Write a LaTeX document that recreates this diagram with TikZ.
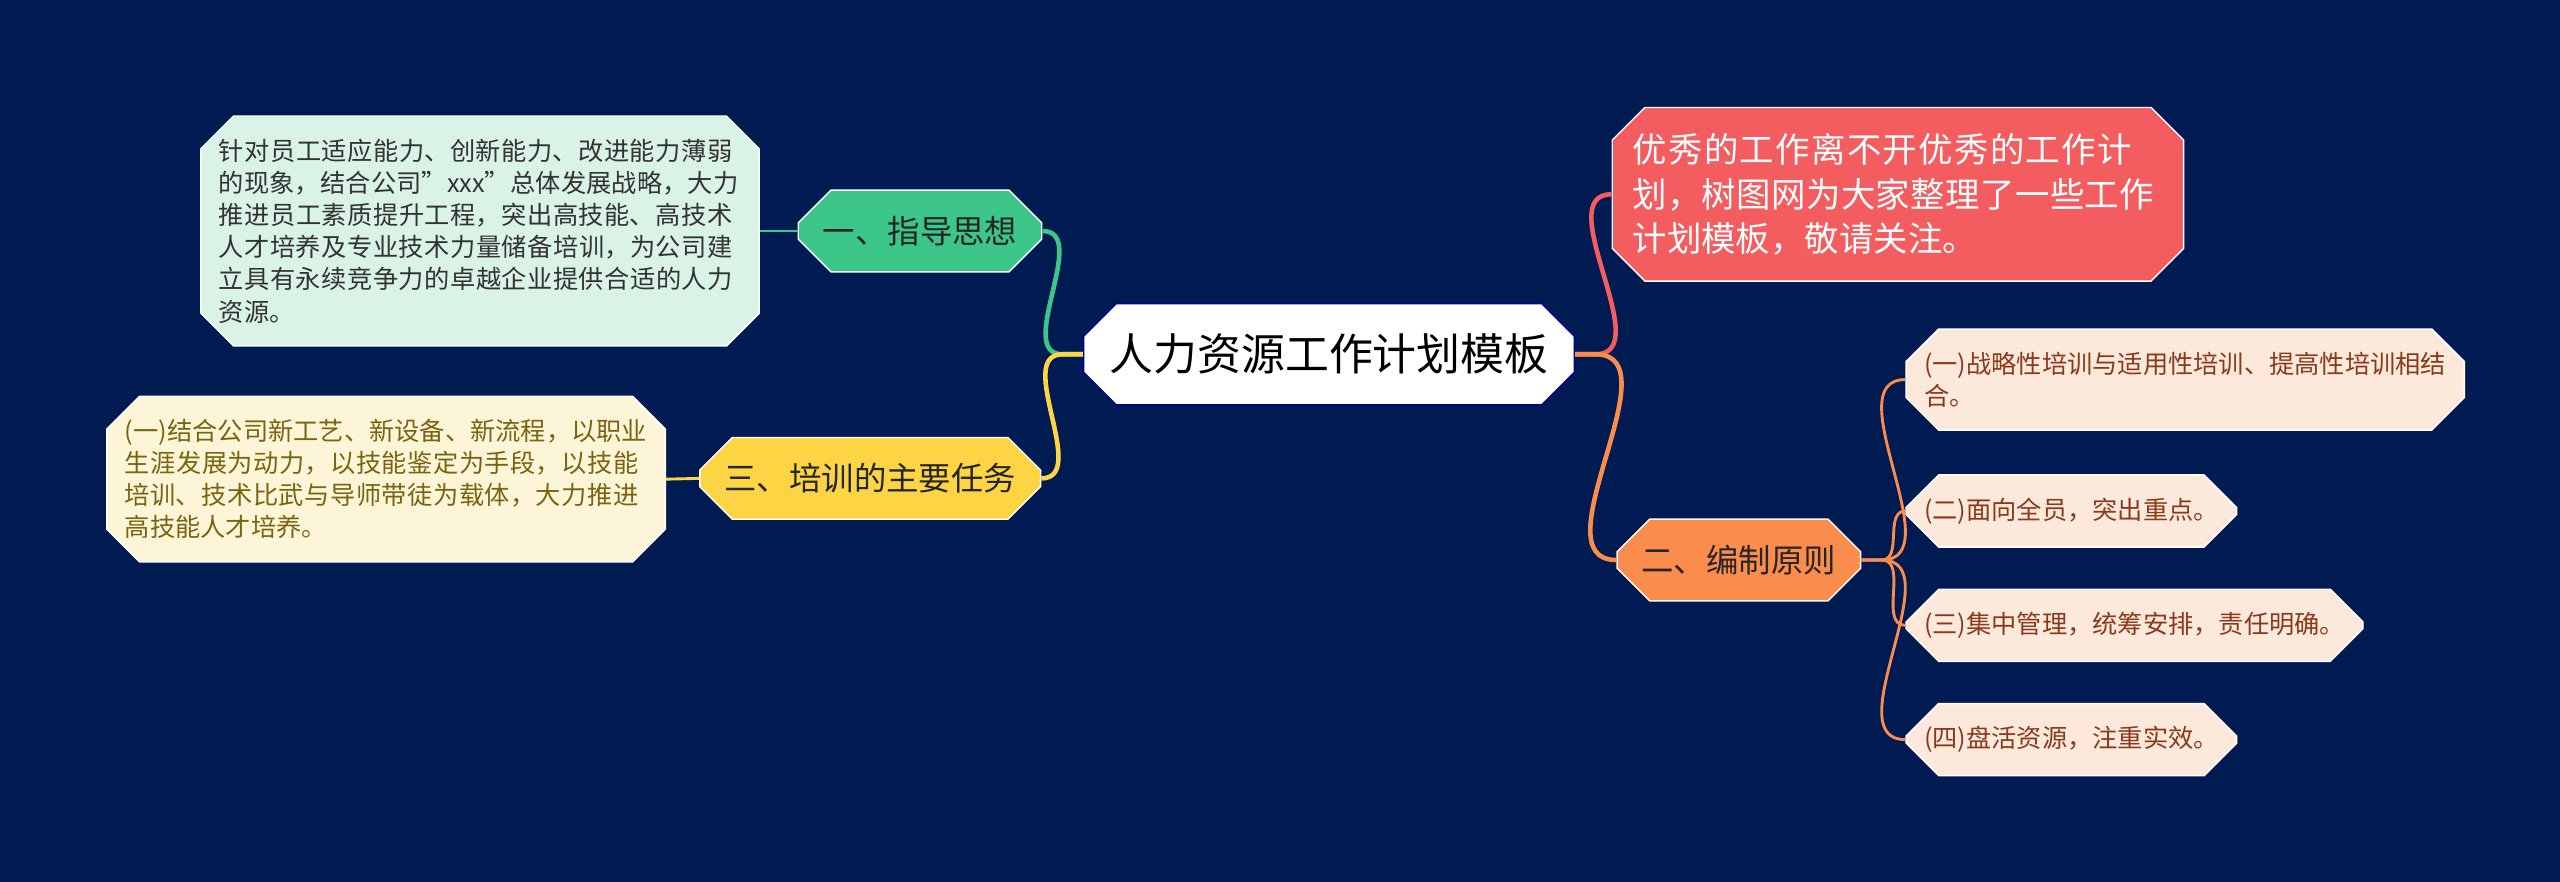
\documentclass[tikz,border=0pt]{standalone}
\usepackage{fontspec}
\setmainfont{Noto Sans CJK SC}
\XeTeXlinebreaklocale "zh"
\XeTeXlinebreakskip = 0pt plus 1pt
\usetikzlibrary{shapes.misc}
\definecolor{bg}{HTML}{001A52}
\definecolor{cred}{HTML}{F45D5F}
\definecolor{corange}{HTML}{FA8D4C}
\definecolor{cgreen}{HTML}{3CC68A}
\definecolor{cyellow}{HTML}{FDD444}
\definecolor{lorange}{HTML}{FDE9DC}
\definecolor{lgreen}{HTML}{D9F3E6}
\definecolor{lyellow}{HTML}{FDF5D8}
\definecolor{tbrown}{HTML}{8A3A1A}
\definecolor{tolive}{HTML}{7A6410}
\begin{document}
\begin{tikzpicture}[
   box/.style={chamfered rectangle,chamfered rectangle xsep=0.2cm,chamfered rectangle ysep=0.2cm,draw=white,line width=0.5pt},
   branch/.style={box,font=\fontsize{11.3}{13}\selectfont,minimum height=0.92cm,inner xsep=0.1cm},
   leaf/.style={box,font=\fontsize{8.8}{11.2}\selectfont,align=left,inner xsep=0.02cm,inner ysep=0.08cm},
   link/.style={line width=1.6pt},
   twig/.style={line width=1pt}]
\fill[bg] (0,0) rectangle (31.36,-10.8);
\node[box,fill=white,draw=blue!60!black,font=\fontsize{15.3}{18}\selectfont,minimum width=5.96cm,minimum height=1.24cm] (root) at (16.28,-4.34) {人力资源工作计划模板};
% right side
\node[box,fill=cred,text=white,font=\fontsize{12}{15.5}\selectfont,text width=6.5cm,align=left,minimum height=2.04cm,inner xsep=0.05cm] (intro) at (23.25,-2.38) {优秀的工作离不开优秀的工作计划，树图网为大家整理了一些工作计划模板，敬请关注。};
\node[branch,fill=corange,text=black!85,minimum width=2.88cm] (yuanze) at (21.3,-6.86) {二、编制原则};
\node[leaf,fill=lorange,text=tbrown,text width=6.4cm,anchor=west,minimum height=1.1cm] (y1) at (23.34,-4.65) {(一)战略性培训与适用性培训、提高性培训相结合。};
\node[leaf,fill=lorange,text=tbrown,anchor=west,minimum height=0.68cm] (y2) at (23.34,-6.26) {(二)面向全员，突出重点。};
\node[leaf,fill=lorange,text=tbrown,anchor=west,minimum height=0.68cm] (y3) at (23.34,-7.66) {(三)集中管理，统筹安排，责任明确。};
\node[leaf,fill=lorange,text=tbrown,anchor=west,minimum height=0.68cm] (y4) at (23.34,-9.06) {(四)盘活资源，注重实效。};
% left side
\node[branch,fill=cgreen,text=black!85,minimum width=2.86cm] (sixiang) at (11.27,-2.83) {一、指导思想};
\node[leaf,fill=lgreen,text=black!80,text width=6.4cm,minimum height=2.74cm] (s1) at (5.88,-2.83) {针对员工适应能力、创新能力、改进能力薄弱的现象，结合公司"xxx"总体发展战略，大力推进员工素质提升工程，突出高技能、高技术人才培养及专业技术力量储备培训，为公司建立具有永续竞争力的卓越企业提供合适的人力资源。};
\node[branch,fill=cyellow,text=black!85,minimum width=4.08cm] (renwu) at (10.66,-5.86) {三、培训的主要任务};
\node[leaf,fill=lyellow,text=tolive,text width=6.4cm,minimum height=1.94cm] (r1) at (4.73,-5.87) {(一)结合公司新工艺、新设备、新流程，以职业生涯发展为动力，以技能鉴定为手段，以技能培训、技术比武与导师带徒为载体，大力推进高技能人才培养。};
% connectors
\draw[link,cred] (root.east) -- ++(0.25,0) to[out=0,in=180] (intro.west);
\draw[link,corange] (root.east) -- ++(0.25,0) to[out=0,in=180] (yuanze.west);
\draw[link,cgreen] (root.west) -- ++(-0.25,0) to[out=180,in=0] (sixiang.east);
\draw[link,cyellow] (root.west) -- ++(-0.25,0) to[out=180,in=0] (renwu.east);
\draw[twig,cgreen] (sixiang.west) -- (s1.east);
\draw[twig,cyellow] (renwu.west) -- (r1.east);
\foreach \n in {y1,y2,y3,y4}
  \draw[twig,corange] (yuanze.east) -- ++(0.25,0) to[out=0,in=180] (\n.west);
\end{tikzpicture}
\end{document}
